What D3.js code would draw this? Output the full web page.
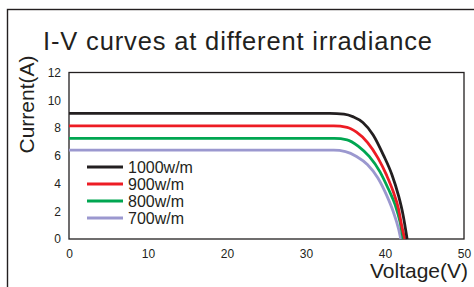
<!DOCTYPE html>
<html>
<head>
<meta charset="utf-8">
<script src="https://cdn.jsdelivr.net/npm/d3@7"></script>
<style>
  html, body { margin: 0; padding: 0; background: #fff; }
  svg { display: block; font-family: "Liberation Sans", Arial, sans-serif; }
</style>
</head>
<body>
<svg id="chart" width="474" height="287"></svg>
<script>
// ---- Data ----
const title = "I-V curves at different irradiance";
const xLabel = "Voltage(V)";
const yLabel = "Current(A)";
const xTicks = [0, 10, 20, 30, 40, 50];
const yTicks = [0, 2, 4, 6, 8, 10, 12];
const seriesNames = ["1000w/m", "900w/m", "800w/m", "700w/m"];
const seriesColors = ["#231f20", "#ed1c24", "#00a651", "#9b98cf"];

const v1000 = [0, 33.0, 34.8, 36.0, 37.2, 38.5, 39.8, 40.9, 41.7, 42.3, 42.8];
const i1000 = [9.05, 9.05, 9.0, 8.8, 8.4, 7.5, 6.05, 4.6, 3.15, 1.7, 0];
const v900 = [0, 33.5, 35.2, 36.4, 37.8, 39.1, 40.2, 41.05, 41.7, 42.1, 42.5];
const i900 = [8.15, 8.15, 8.05, 7.7, 6.95, 5.85, 4.6, 3.4, 2.2, 1.0, 0];
const v800 = [0, 33.6, 35.2, 36.6, 38.0, 39.35, 40.4, 41.3, 41.9, 42.3];
const i800 = [7.25, 7.25, 7.15, 6.7, 5.95, 4.86, 3.64, 2.44, 1.24, 0];
const v700 = [0, 33.5, 35.0, 36.4, 37.8, 39.1, 40.2, 41.05, 41.7, 42.0];
const i700 = [6.4, 6.4, 6.3, 5.95, 5.35, 4.4, 3.16, 1.96, 0.77, 0];

const series = [
  { name: seriesNames[0], color: seriesColors[0], pts: v1000.map((v, k) => [v, i1000[k]]) },
  { name: seriesNames[1], color: seriesColors[1], pts: v900.map((v, k) => [v, i900[k]]) },
  { name: seriesNames[2], color: seriesColors[2], pts: v800.map((v, k) => [v, i800[k]]) },
  { name: seriesNames[3], color: seriesColors[3], pts: v700.map((v, k) => [v, i700[k]]) }
];

// ---- Layout ----
const svg = d3.select("#chart");
const plot = { left: 69, right: 464, top: 72.5, bottom: 239 };
const x = d3.scaleLinear().domain([0, 50]).range([plot.left, plot.right]);
const y = d3.scaleLinear().domain([0, 12]).range([plot.bottom, plot.top]);
const ink = "#231f20";

// outer frame (extends beyond view on right/bottom)
svg.append("rect")
  .attr("x", 7.5).attr("y", 9.5)
  .attr("width", 500).attr("height", 320)
  .attr("fill", "none").attr("stroke", ink).attr("stroke-width", 1.4);

// title
svg.append("text")
  .attr("x", 43).attr("y", 49.5)
  .attr("font-size", 25.5).attr("fill", ink)
  .attr("letter-spacing", 0.85)
  .text(title);

// plot box
svg.append("rect")
  .attr("x", plot.left).attr("y", plot.top)
  .attr("width", plot.right - plot.left).attr("height", plot.bottom - plot.top)
  .attr("fill", "none").attr("stroke", ink).attr("stroke-width", 1.3);

// axes (labels only, no tick marks)
const xAxis = svg.append("g")
  .attr("transform", `translate(0,${plot.bottom})`)
  .call(d3.axisBottom(x).tickValues(xTicks).tickSize(0).tickPadding(10).tickFormat(d3.format("d")));
const yAxis = svg.append("g")
  .attr("transform", `translate(${plot.left},0)`)
  .call(d3.axisLeft(y).tickValues(yTicks).tickSize(0).tickPadding(8).tickFormat(d3.format("d")));
[xAxis, yAxis].forEach(g => {
  g.select(".domain").remove();
  g.selectAll("text")
    .attr("font-size", 12)
    .attr("font-family", "Liberation Sans, Arial, sans-serif")
    .attr("fill", ink);
});

// curves
const line = d3.line()
  .x(d => x(d[0])).y(d => y(d[1]))
  .curve(d3.curveMonotoneX);

svg.append("g").selectAll("path")
  .data(series.slice().reverse())
  .join("path")
  .attr("d", d => line(d.pts))
  .attr("fill", "none")
  .attr("stroke", d => d.color)
  .attr("stroke-width", 2.8);

// legend
const legendY = [167, 184, 201, 218];
const legend = svg.append("g");
series.forEach((s, k) => {
  legend.append("line")
    .attr("x1", 87).attr("x2", 123)
    .attr("y1", legendY[k]).attr("y2", legendY[k])
    .attr("stroke", s.color).attr("stroke-width", 3.2);
  legend.append("text")
    .attr("x", 128).attr("y", legendY[k] + 5.8)
    .attr("font-size", 16).attr("fill", ink)
    .text(s.name);
});

// axis titles
svg.append("text")
  .attr("transform", `translate(34,104.5) rotate(-90)`)
  .attr("text-anchor", "middle")
  .attr("font-size", 21).attr("fill", ink)
  .text(yLabel);

svg.append("text")
  .attr("x", 468).attr("y", 278)
  .attr("text-anchor", "end")
  .attr("font-size", 21).attr("fill", ink)
  .text(xLabel);
</script>
</body>
</html>
